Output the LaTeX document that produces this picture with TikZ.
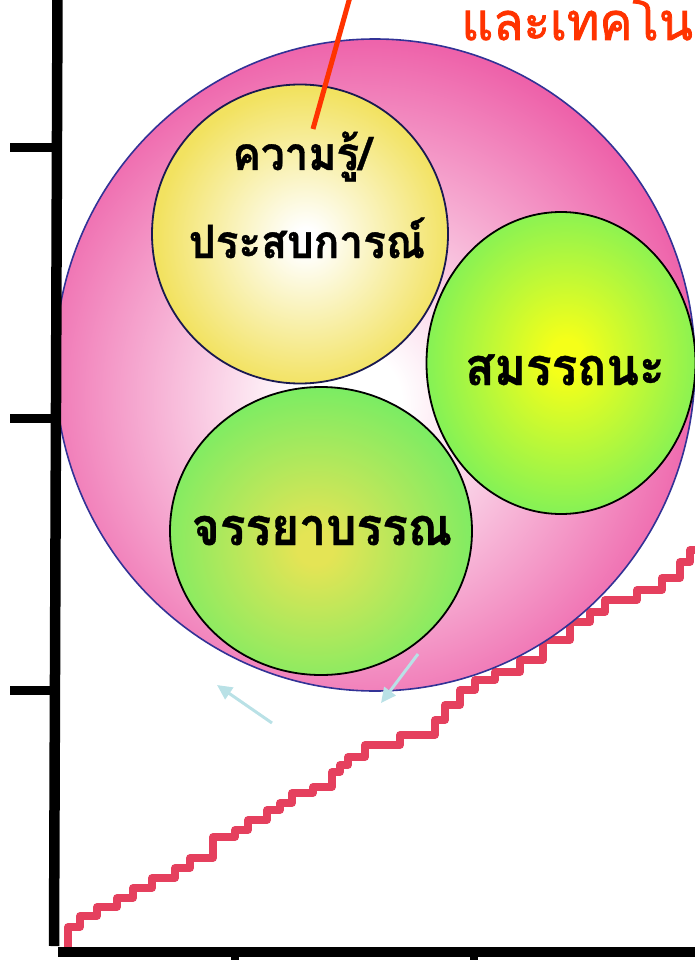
\documentclass[tikz,border=0pt]{standalone}
\usepackage{fontspec}
\newfontfamily\thaifont[Script=Thai, FakeStretch=0.92, FakeBold=0.8]{Loma}
\newfontfamily\thaititle[Script=Thai, FakeStretch=0.95, FakeBold=1.6]{Loma}
\usetikzlibrary{arrows.meta,shapes.geometric}
\definecolor{pinkc}{RGB}{236,80,160}
\definecolor{yellowc}{RGB}{242,226,96}
\definecolor{greenc}{RGB}{102,238,102}
\definecolor{brightyel}{RGB}{245,255,25}
\definecolor{oliveyel}{RGB}{228,228,85}
\definecolor{stairc}{RGB}{229,64,94}
\definecolor{arrowc}{RGB}{185,225,230}
\definecolor{titlec}{RGB}{255,51,0}
\definecolor{navyc}{RGB}{50,50,150}
\definecolor{darknavy}{RGB}{25,25,80}
\pgfdeclareradialshading{pinkglow}{\pgfpoint{-2bp}{-3bp}}{color(0bp)=(white); color(4bp)=(white); color(30bp)=(pinkc); color(100bp)=(pinkc)}
\pgfdeclareradialshading{yellowglow}{\pgfpoint{1bp}{-1bp}}{color(0bp)=(white); color(2bp)=(white); color(25bp)=(yellowc); color(100bp)=(yellowc)}
\pgfdeclareradialshading{greenglowA}{\pgfpoint{1bp}{1bp}}{color(0bp)=(brightyel); color(3bp)=(brightyel); color(32bp)=(greenc); color(100bp)=(greenc)}
\pgfdeclareradialshading{greenglowB}{\pgfpoint{-1bp}{-3bp}}{color(0bp)=(oliveyel); color(3bp)=(oliveyel); color(32bp)=(greenc); color(100bp)=(greenc)}
\tikzset{
  axisline/.style={line width=10.5pt, black},
  ticky/.style={line width=9pt, black},
  blob/.style={ellipse, inner sep=0pt, line width=1.8pt},
  thaibig/.style={font=\thaifont\bfseries\fontsize{52}{60}\selectfont, inner sep=0pt, anchor=base},
  thaimid/.style={font=\thaifont\bfseries\fontsize{46}{56}\selectfont, inner sep=0pt, anchor=base},
  pointer/.style={arrowc, line width=3pt, -{Triangle[length=15pt,width=14pt]}},
}
\begin{document}
\begin{tikzpicture}[x=1pt,y=-1pt]
\useasboundingbox (0,0) rectangle (695,960);
% staircase
\draw[stairc, line width=7.5pt, line cap=round, line join=round]
 (68,950) -- (68,927) -- (80,927) -- (80,916) -- (97,916) -- (97,907) -- (117,907) -- (117,898) -- (133,898) -- (133,888) -- (152,888) -- (152,878) -- (175,878) -- (175,868) -- (190,868) -- (190,858) -- (213,858) -- (213,837) -- (235,837) -- (235,830) -- (248,830) -- (248,820) -- (267,820) -- (267,810) -- (280,810) -- (280,803) -- (292,803) -- (292,793) -- (313,793) -- (313,787) -- (332,787) -- (332,772) -- (340,772) -- (340,765) -- (348,765) -- (348,757) -- (365,757) -- (365,745) -- (400,745) -- (400,735) -- (435,735) -- (435,720) -- (445,720) -- (445,705) -- (460,705) -- (460,690) -- (475,690) -- (475,680) -- (495,680) -- (495,672) -- (520,672) -- (520,660) -- (543,660) -- (543,640) -- (570,640) -- (570,622) -- (590,622) -- (590,612) -- (605,612) -- (605,600) -- (637,600) -- (637,590) -- (662,590) -- (662,578) -- (680,578) -- (680,562) -- (690,562) -- (690,550) -- (699,550);
% big pink circle
\node[blob, line width=1.6pt, draw=navyc, shading=pinkglow, minimum width=640pt, minimum height=652pt] (big) at (375,365) {};
% inner circles
\node[blob, draw=darknavy, shading=yellowglow, minimum width=296pt, minimum height=299pt] (know) at (300,234) {};
\node[blob, draw=black, shading=greenglowA, minimum width=269pt, minimum height=302pt] (comp) at (561,363) {};
\node[blob, draw=black, shading=greenglowB, minimum width=302pt, minimum height=288pt] (ethic) at (321,531) {};
% texts
\node[thaimid] (t1) at (302,170) {ความรู้/};
\node[thaimid] (t2) at (307,258) {ประสบการณ์};
\node[thaibig] (t3) at (565,385) {สมรรถนะ};
\node[thaibig] (t4) at (322,545) {จรรยาบรรณ};
\node[font=\thaititle\fontsize{52}{60}\selectfont, text=titlec, inner sep=0pt, anchor=base east] (title) at (693,40) {และเทคโน};
% red pointer line
\coordinate (rtop) at (350,-3);
\coordinate (rend) at (313,129);
\draw[titlec, line width=5pt] (rtop) -- (rend);
% light blue arrows
\coordinate (a1s) at (272,723);
\coordinate (a1e) at (217,685);
\coordinate (a2s) at (418,654);
\coordinate (a2e) at (381,703);
\draw[pointer] (a1s) -- (a1e);
\draw[pointer] (a2s) -- (a2e);
% axes
\coordinate (ytop) at (57.5,-5);
\coordinate (ybot) at (54,946);
\coordinate (xleft) at (58,952);
\coordinate (xright) at (700,952);
\draw[axisline] (ytop) -- (ybot);
\draw[axisline] (xleft) -- (xright);
\foreach \yy in {148,418,690} \draw[ticky] (10,\yy) -- (55,\yy);
\foreach \xx in {235,474} \draw[line width=8pt] (\xx,952) -- (\xx,965);
\end{tikzpicture}
\end{document}
